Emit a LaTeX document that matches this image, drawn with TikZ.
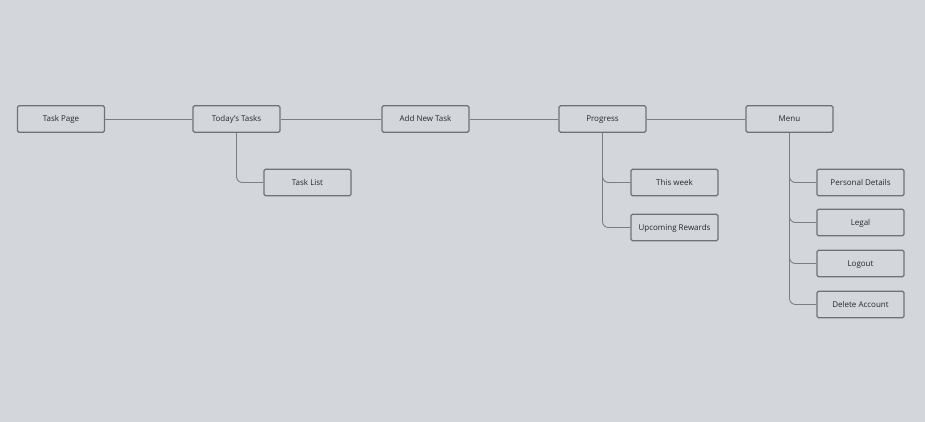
\documentclass[tikz,border=0pt]{standalone}
\usepackage{fontspec}
\setmainfont{Open Sans}
\usepackage{tikz}
\usetikzlibrary{positioning}

\definecolor{bgcol}{HTML}{D3D7DB}
\definecolor{edgecol}{HTML}{6E7176}
\definecolor{linecol}{HTML}{7A7D82}
\definecolor{txtcol}{HTML}{25272B}

\begin{document}
\begin{tikzpicture}[
        x=1pt, y=-1pt,
        screen/.style={rectangle, draw=edgecol, line width=1.1pt, rounded corners=1.5pt, fill=bgcol, minimum width=87pt, minimum height=26.5pt, align=center, text=txtcol, font=\fontsize{8}{9}\selectfont, inner sep=0pt, text height=6.5pt, text depth=1.5pt},
        link/.style={draw=linecol, line width=0.9pt, rounded corners=6pt}
    ]
        % background and bounds
        \fill[bgcol] (0,0) rectangle (925,422);
        \useasboundingbox (0,0) rectangle (925,422);

        % Row 1: main pages
        \node[screen] (taskpage) at (61,119) {Task Page};
        \node[screen] (today) at (236.5,119) {Today’s Tasks};
        \node[screen] (addtask) at (425.5,119) {Add New Task};
        \node[screen] (progress) at (602.5,119) {Progress};
        \node[screen] (menu) at (789.5,119) {Menu};

        % Sub pages
        \node[screen] (tasklist) at (307.5,182.5) {Task List};
        \node[screen] (thisweek) at (674.5,182.5) {This week};
        \node[screen] (rewards) at (674.5,227.5) {Upcoming Rewards};
        \node[screen] (personal) at (860.5,182.5) {Personal Details};
        \node[screen] (legal) at (860.5,222.5) {Legal};
        \node[screen] (logout) at (860.5,263.5) {Logout};
        \node[screen] (delete) at (860.5,304.5) {Delete Account};

        % Main flow
        \draw[link] (taskpage) -- (today);
        \draw[link] (today) -- (addtask);
        \draw[link] (addtask) -- (progress);
        \draw[link] (progress) -- (menu);

        % Branches
        \draw[link] (today.south) |- (tasklist.west);
        \draw[link] (progress.south) |- (thisweek.west);
        \draw[link] (progress.south) |- (rewards.west);
        \foreach \sub in {personal, legal, logout, delete}
            \draw[link] (menu.south) |- (\sub.west);

    \end{tikzpicture}
\end{document}
